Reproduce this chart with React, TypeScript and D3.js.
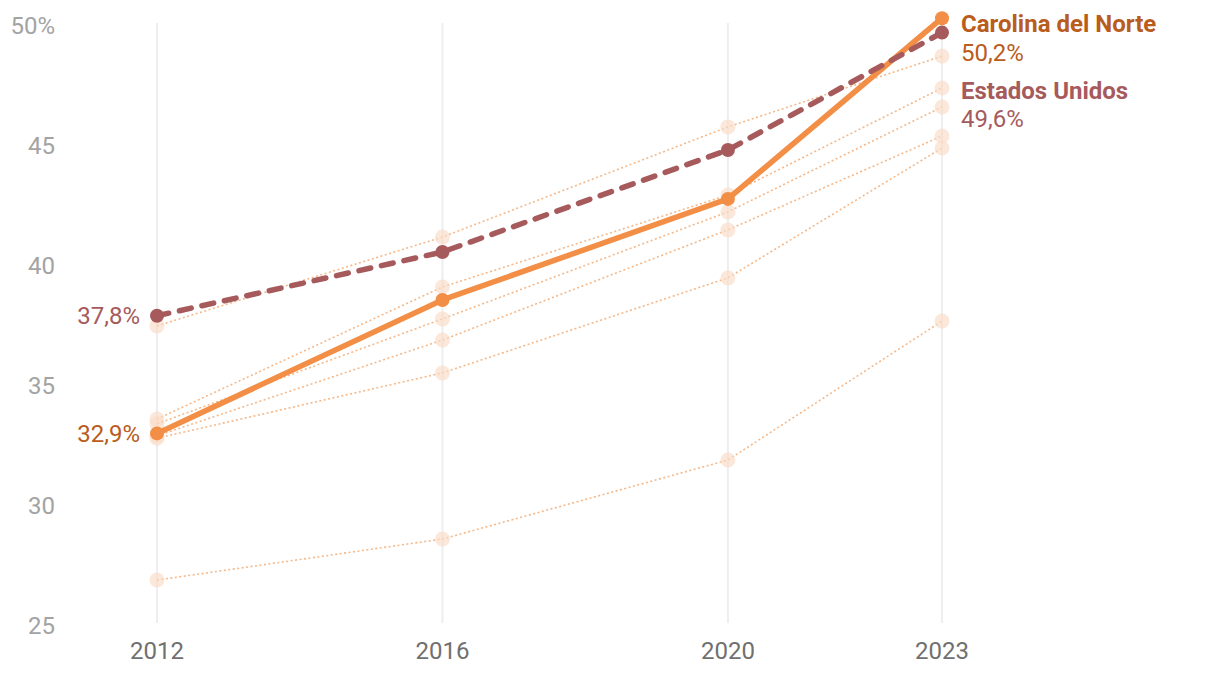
import React from "react";
import * as d3 from "d3";

const years = [2012, 2016, 2020, 2023];
const yTicks = [25, 30, 35, 40, 45, 50];

const carolina = [32.9, 38.46, 42.67, 50.2];
const usa = [37.8, 40.46, 44.71, 49.6];

const others = [
  [37.38, 41.08, 45.67, 48.62],
  [33.5, 39.0, 42.83, 47.29],
  [33.3, 37.67, 42.13, 46.5],
  [32.8, 36.79, 41.38, 45.29],
  [32.7, 35.42, 39.38, 44.79],
  [26.79, 28.5, 31.79, 37.58],
];

const W = 1220;
const H = 674;
const FONT = "Roboto, 'Noto Sans', sans-serif";
const FS = 24;

const CN_LINE = "#f28e45";
const CN_TEXT = "#b95c1c";
const US_COLOR = "#a65a5c";
const BG_LINE = "#f5b888";
const BG_DOT = "#f9dcc6";

export default function App() {
  const x = d3.scaleLinear().domain([2012, 2023]).range([157, 942]);
  const y = d3.scaleLinear().domain([25, 50]).range([623, 23]);
  const line = d3
    .line<number>()
    .x((_, i) => x(years[i]))
    .y((d) => y(d));

  return (
    <svg
      width={W}
      height={H}
      style={{ position: "absolute", left: 0, top: 0, background: "#fff" }}
      fontFamily={FONT}
    >
      {years.map((yr) => (
        <line
          key={"g" + yr}
          x1={x(yr)}
          x2={x(yr)}
          y1={y(50)}
          y2={y(25)}
          stroke="#eeeeee"
          strokeWidth={2}
        />
      ))}
      {yTicks.map((t) => (
        <text
          key={"yt" + t}
          x={55}
          y={y(t) + 10.5}
          textAnchor="end"
          fontSize={FS}
          fill="#a3a3a3"
        >
          {t === 50 ? "50%" : t}
        </text>
      ))}
      {years.map((yr) => (
        <text
          key={"xt" + yr}
          x={x(yr)}
          y={659}
          textAnchor="middle"
          fontSize={FS}
          fill="#707070"
        >
          {yr}
        </text>
      ))}
      {others.map((s, i) => (
        <g key={"o" + i}>
          <path
            d={line(s) || ""}
            fill="none"
            stroke={BG_LINE}
            strokeWidth={1.6}
            strokeDasharray="2 2.5"
          />
          {s.map((v, j) => (
            <circle
              key={j}
              cx={x(years[j])}
              cy={y(v)}
              r={7.5}
              fill={BG_DOT}
              fillOpacity={0.65}
            />
          ))}
        </g>
      ))}
      <path
        d={line(carolina) || ""}
        fill="none"
        stroke={CN_LINE}
        strokeWidth={5.5}
        strokeLinejoin="round"
      />
      <path
        d={line(usa) || ""}
        fill="none"
        stroke={US_COLOR}
        strokeWidth={5.5}
        strokeDasharray="12 11"
        strokeLinecap="round"
      />
      {carolina.map((v, j) => (
        <circle key={"c" + j} cx={x(years[j])} cy={y(v)} r={7} fill={CN_LINE} />
      ))}
      {usa.map((v, j) => (
        <circle key={"u" + j} cx={x(years[j])} cy={y(v)} r={7} fill={US_COLOR} />
      ))}
      <text x={140} y={y(usa[0]) + 8.5} textAnchor="end" fontSize={FS} fill={US_COLOR}>
        37,8%
      </text>
      <text x={140} y={y(carolina[0]) + 8.5} textAnchor="end" fontSize={FS} fill={CN_TEXT}>
        32,9%
      </text>
      <text x={961} y={31.5} fontSize={FS} fontWeight="bold" fill={CN_TEXT}>
        Carolina del Norte
      </text>
      <text x={961} y={60.5} fontSize={FS} fill={CN_TEXT}>
        50,2%
      </text>
      <text x={961} y={98.5} fontSize={FS} fontWeight="bold" fill={US_COLOR}>
        Estados Unidos
      </text>
      <text x={961} y={126.5} fontSize={FS} fill={US_COLOR}>
        49,6%
      </text>
    </svg>
  );
}
